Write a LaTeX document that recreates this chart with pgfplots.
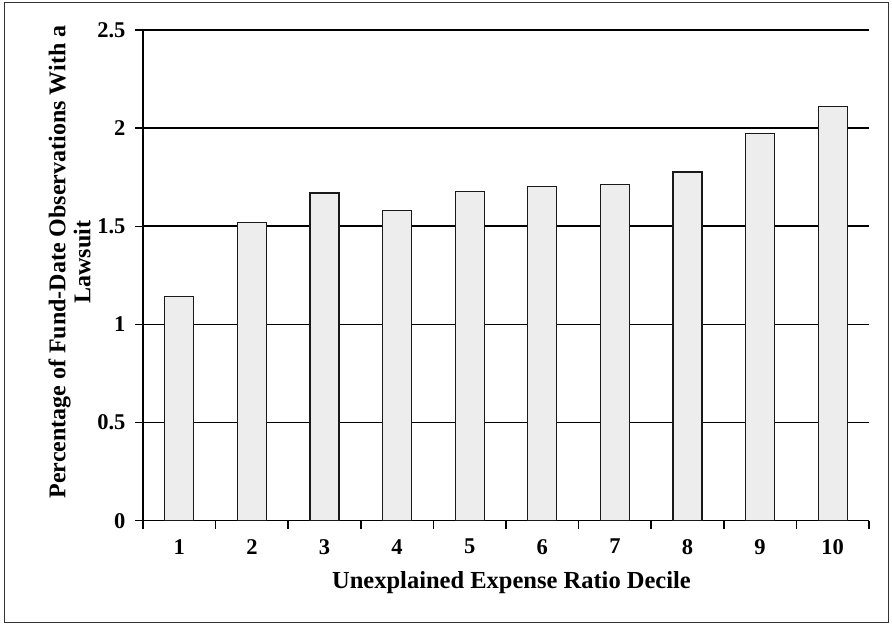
\documentclass[border=0pt]{standalone}
\usepackage{pgfplots}
\pgfplotsset{compat=1.18}
\usepackage{fontspec}
\setmainfont{Liberation Serif}
\begin{document}
\begin{tikzpicture}
\useasboundingbox (0pt,0pt) rectangle (892pt,626pt);
\fill[white] (0pt,0pt) rectangle (892pt,626pt);
\draw[line width=1pt, black!80] (4pt,3pt) rectangle (888pt,623pt);
\begin{axis}[
  at={(143pt,105.3pt)}, anchor=south west,
  scale only axis, width=726pt, height=490.7pt,
  xmin=0.5, xmax=10.5, ymin=0, ymax=2.5,
  axis x line*=bottom, axis y line*=left,
  axis line style={line width=1.6pt,-},
  xtick={1,...,10},
  xticklabels={1,2,3,4,5,6,7,8,9,10},
  major x tick style={draw=none},
  minor xtick={0.5,1.5,...,10.5},
  minor x tick style={line width=1.5pt, black},
  ytick={0,0.5,1,1.5,2,2.5},
  yticklabels={0,0.5,1,1.5,2,2.5},
  y tick style={line width=1.5pt, black},
  ymajorgrids, grid style={line width=1.6pt, black},
  tick align=outside,
  major tick length=8pt, minor tick length=8pt,
  ticklabel style={font=\bfseries\fontsize{22.5}{22.5}\selectfont},
  xticklabel style={yshift=-7pt},
  yticklabel style={xshift=-6pt},
]
\addplot[ybar, bar width=29pt, fill=black!7, draw=black!90, line width=1.3pt]
  coordinates {(1,1.141) (2,1.518) (3,1.669) (4,1.581) (5,1.676) (6,1.703) (7,1.714) (8,1.776) (9,1.971) (10,2.109)};
\end{axis}
\node[font=\bfseries\fontsize{24.5}{24.5}\selectfont] at (511.5pt,43pt) {Unexplained Expense Ratio Decile};
\node[rotate=90, align=center, font=\bfseries\fontsize{24}{25}\selectfont] at (69.5pt,364pt) {Percentage of Fund-Date Observations With a\\Lawsuit};
\end{tikzpicture}
\end{document}
